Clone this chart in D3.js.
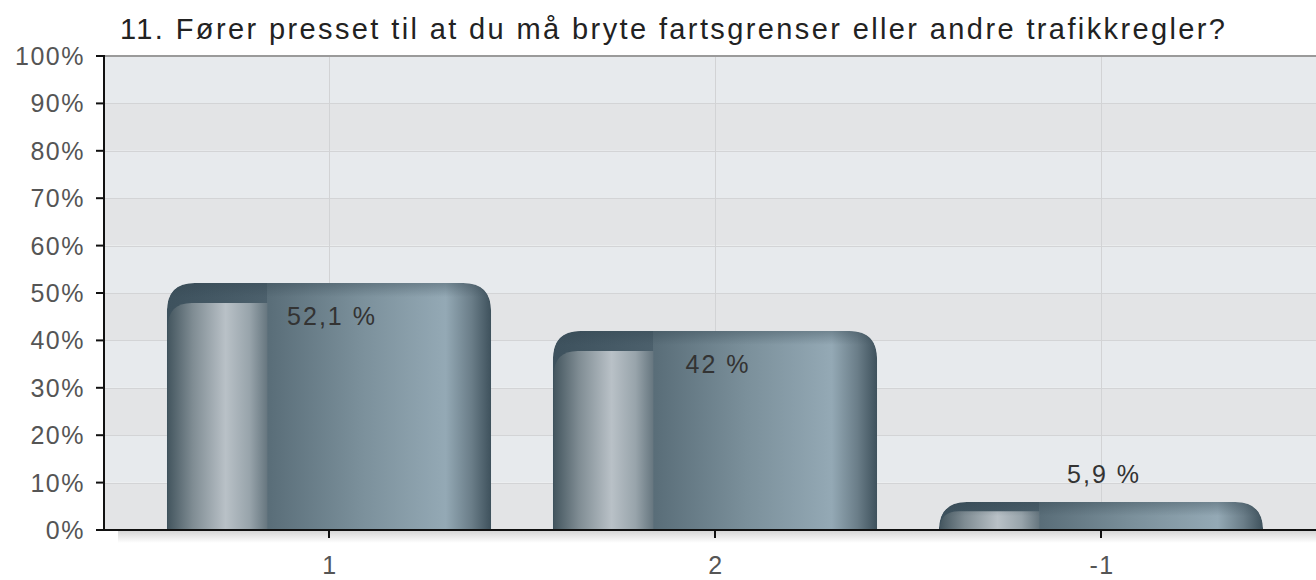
<!DOCTYPE html>
<html>
<head>
<meta charset="utf-8">
<script src="https://cdn.jsdelivr.net/npm/d3@7"></script>
<style>
  body { margin: 0; background: #fff; }
  text { font-family: "Liberation Sans", Arial, sans-serif; }
</style>
</head>
<body>
<div id="vis"></div>
<script>
const title = "11. Fører presset til at du må bryte fartsgrenser eller andre trafikkregler?"
const categories = ["1", "2", "-1"]
const values = [52.1, 42, 5.9]
const valueLabels = ["52,1 %", "42 %", "5,9 %"]
const yTicks = [0, 10, 20, 30, 40, 50, 60, 70, 80, 90, 100]

const width = 1316, height = 580
const plot = {left: 104, right: 1316, top: 56, bottom: 530}

const svg = d3.select("#vis").append("svg")
    .attr("width", width)
    .attr("height", height)

const defs = svg.append("defs")

// main horizontal gradient of the bar body
const gMain = defs.append("linearGradient").attr("id", "barMain")
    .attr("x1", 0).attr("x2", 1).attr("y1", 0).attr("y2", 0)
;[[0, "#3d515d"], [0.31, "#4c606c"], [0.31, "#596d78"], [0.6, "#7b909b"],
  [0.86, "#94a9b5"], [0.94, "#6a7d88"], [1, "#3e515c"]]
    .forEach(([o, c]) => gMain.append("stop").attr("offset", o).attr("stop-color", c))

// shiny part on the left
const gHi = defs.append("linearGradient").attr("id", "barHi")
    .attr("x1", 0).attr("x2", 1).attr("y1", 0).attr("y2", 0)
;[[0, "#44565f"], [0.25, "#7f8c93"], [0.58, "#b9c1c7"], [0.82, "#98a4ab"], [1, "#66767f"]]
    .forEach(([o, c]) => gHi.append("stop").attr("offset", o).attr("stop-color", c))

// top darkening
const gTop = defs.append("linearGradient").attr("id", "barTop")
    .attr("x1", 0).attr("x2", 0).attr("y1", 0).attr("y2", 1)
gTop.append("stop").attr("offset", 0).attr("stop-color", "#2f414c").attr("stop-opacity", 0.35)
gTop.append("stop").attr("offset", 1).attr("stop-color", "#2f414c").attr("stop-opacity", 0)

const gShadow = defs.append("linearGradient").attr("id", "axShadow")
    .attr("x1", 0).attr("x2", 0).attr("y1", 0).attr("y2", 1)
gShadow.append("stop").attr("offset", 0).attr("stop-color", "#d6d6d6")
gShadow.append("stop").attr("offset", 1).attr("stop-color", "#ffffff")

const x = d3.scaleBand()
    .domain(categories)
    .range([136, 1294])
    .paddingInner(0.16)
    .paddingOuter(0.08)

const y = d3.scaleLinear()
    .domain([0, 100])
    .range([plot.bottom, plot.top])

// background bands
svg.append("g").selectAll("rect")
    .data(yTicks.slice(0, -1))
    .join("rect")
    .attr("x", plot.left)
    .attr("width", plot.right - plot.left)
    .attr("y", d => y(d + 10))
    .attr("height", d => y(d) - y(d + 10))
    .attr("fill", (d, i) => i % 2 ? "#e7eaed" : "#e3e4e6")

// shadow under x axis
svg.append("rect")
    .attr("x", 118).attr("y", plot.bottom + 1)
    .attr("width", plot.right - 118).attr("height", 12)
    .attr("fill", "url(#axShadow)")

// grid
svg.append("g").selectAll("line")
    .data(yTicks.slice(1, -1))
    .join("line")
    .attr("x1", plot.left).attr("x2", plot.right)
    .attr("y1", d => Math.round(y(d)) + 0.5).attr("y2", d => Math.round(y(d)) + 0.5)
    .attr("stroke", "#d3d4d6")
svg.append("g").selectAll("line")
    .data(categories)
    .join("line")
    .attr("x1", d => Math.round(x(d) + x.bandwidth() / 2) + 0.5)
    .attr("x2", d => Math.round(x(d) + x.bandwidth() / 2) + 0.5)
    .attr("y1", plot.top).attr("y2", plot.bottom)
    .attr("stroke", "#d2d3d5")

svg.append("line")
    .attr("x1", plot.left).attr("x2", plot.right)
    .attr("y1", plot.top).attr("y2", plot.top)
    .attr("stroke", "#9a9a9a").attr("stroke-width", 2)

// bars
function topRounded(x0, y0, w, h, r) {
    r = Math.min(r, h, w / 2)
    return `M${x0},${y0 + h}V${y0 + r}Q${x0},${y0} ${x0 + r},${y0}H${x0 + w - r}` +
        `Q${x0 + w},${y0} ${x0 + w},${y0 + r}V${y0 + h}Z`
}
function leftRounded(x0, y0, w, h, r) {
    r = Math.min(r, h, w)
    return `M${x0},${y0 + h}V${y0 + r}Q${x0},${y0} ${x0 + r},${y0}H${x0 + w}V${y0 + h}Z`
}

const bars = svg.append("g").selectAll("g")
    .data(categories.map((c, i) => ({c, v: values[i], label: valueLabels[i]})))
    .join("g")

bars.each(function(d, i) {
    const g = d3.select(this)
    const x0 = x(d.c), w = x.bandwidth()
    const y0 = y(d.v), h = y(0) - y(d.v)
    const cap = Math.min(20, h * 0.33)
    const shape = topRounded(x0, y0, w, h, 28)
    defs.append("clipPath").attr("id", "clip" + i).append("path").attr("d", shape)
    const inner = g.append("g").attr("clip-path", `url(#clip${i})`)
    inner.append("path").attr("d", shape).attr("fill", "url(#barMain)")
    inner.append("path").attr("d", leftRounded(x0 + 1, y0 + cap, w * 0.31 - 1, h - cap, 24))
        .attr("fill", "url(#barHi)")
    inner.append("rect")
        .attr("x", x0).attr("y", y0)
        .attr("width", w).attr("height", Math.min(h, 14))
        .attr("fill", "url(#barTop)")
})

// value labels
bars.append("text")
    .attr("x", d => x(d.c) + x.bandwidth() / 2 + 3)
    .attr("y", d => (y(0) - y(d.v) > 60) ? y(d.v) + 42 : y(d.v) - 19)
    .attr("text-anchor", "middle")
    .attr("font-size", 25)
    .attr("letter-spacing", 2)
    .attr("fill", "#333")
    .text(d => d.label)

// axes
svg.append("line")
    .attr("x1", plot.left).attr("x2", plot.left)
    .attr("y1", plot.top - 1).attr("y2", plot.bottom + 1)
    .attr("stroke", "#111").attr("stroke-width", 2)
svg.append("line")
    .attr("x1", 96).attr("x2", plot.right)
    .attr("y1", plot.bottom).attr("y2", plot.bottom)
    .attr("stroke", "#111").attr("stroke-width", 2)

const yAxis = svg.append("g")
yAxis.selectAll("line")
    .data(yTicks)
    .join("line")
    .attr("x1", 96).attr("x2", plot.left)
    .attr("y1", d => y(d)).attr("y2", d => y(d))
    .attr("stroke", "#111").attr("stroke-width", 2)
yAxis.selectAll("text")
    .data(yTicks)
    .join("text")
    .attr("x", 85)
    .attr("y", d => y(d) + 9)
    .attr("text-anchor", "end")
    .attr("font-size", 25)
    .attr("letter-spacing", 1.5)
    .attr("fill", "#555")
    .text(d => d + "%")

const xAxis = svg.append("g")
xAxis.selectAll("line")
    .data(categories)
    .join("line")
    .attr("x1", d => x(d) + x.bandwidth() / 2).attr("x2", d => x(d) + x.bandwidth() / 2)
    .attr("y1", plot.bottom).attr("y2", plot.bottom + 8)
    .attr("stroke", "#111").attr("stroke-width", 2)
xAxis.selectAll("text")
    .data(categories)
    .join("text")
    .attr("x", d => x(d) + x.bandwidth() / 2 + 1)
    .attr("y", 574)
    .attr("text-anchor", "middle")
    .attr("font-size", 25)
    .attr("letter-spacing", 1.5)
    .attr("fill", "#555")
    .text(d => d)

svg.append("text")
    .attr("x", 120)
    .attr("y", 39)
    .attr("font-size", 29)
    .attr("textLength", 1105)
    .attr("lengthAdjust", "spacing")
    .attr("fill", "#222")
    .text(title)
</script>
</body>
</html>
